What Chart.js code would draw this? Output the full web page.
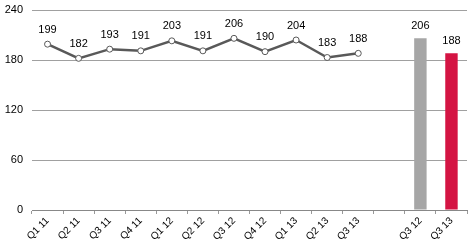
<!DOCTYPE html>
<html>
<head>
<meta charset="utf-8">
<script src="https://cdn.jsdelivr.net/npm/chart.js@4"></script>
<style>
  html, body { margin: 0; padding: 0; background: #fff; }
  #wrap { width: 472px; height: 251px; }
</style>
</head>
<body>
<div id="wrap"><canvas id="myChart"></canvas></div>
<script>
const categories = ['Q1 11', 'Q2 11', 'Q3 11', 'Q4 11', 'Q1 12', 'Q2 12', 'Q3 12', 'Q4 12', 'Q1 13', 'Q2 13', 'Q3 13', '', 'Q3 12', 'Q3 13'];
const trendValues = [199, 182, 193, 191, 203, 191, 206, 190, 204, 183, 188, null, null, null];
const compareValues = [null, null, null, null, null, null, null, null, null, null, null, null, 206, 188];
const compareColors = ['#a6a6a6', '#a6a6a6', '#a6a6a6', '#a6a6a6', '#a6a6a6', '#a6a6a6', '#a6a6a6', '#a6a6a6', '#a6a6a6', '#a6a6a6', '#a6a6a6', '#a6a6a6', '#a6a6a6', '#d41443'];
const yTicks = [0, 60, 120, 180, 240];

// draws the value above each point / bar
const valueLabels = {
  id: 'valueLabels',
  afterDatasetsDraw(chart) {
    const ctx = chart.ctx;
    ctx.save();
    ctx.font = '11px "Liberation Sans", Arial, sans-serif';
    ctx.fillStyle = '#000';
    ctx.textAlign = 'center';
    ctx.textBaseline = 'bottom';
    chart.data.datasets.forEach(function(ds, i) {
      const meta = chart.getDatasetMeta(i);
      meta.data.forEach(function(el, j) {
        const v = ds.data[j];
        if (v === null || v === undefined) return;
        const off = ds.type === 'line' ? 9 : 7;
        ctx.fillText(String(v), el.x, el.y - off);
      });
    });
    ctx.restore();
  }
};

const ctx = document.getElementById('myChart').getContext('2d');
new Chart(ctx, {
  type: 'bar',
  data: {
    labels: categories,
    datasets: [{
      type: 'line',
      data: trendValues,
      borderColor: '#595959',
      borderWidth: 2.5,
      pointRadius: 3,
      pointBorderWidth: 1,
      pointBackgroundColor: '#fff',
      pointBorderColor: '#595959',
      tension: 0,
      spanGaps: false
    }, {
      type: 'bar',
      data: compareValues,
      backgroundColor: compareColors,
      barPercentage: 0.4,
      categoryPercentage: 1
    }]
  },
  options: {
    responsive: true,
    maintainAspectRatio: false,
    animation: false,
    layout: { padding: { top: 10, right: 3, left: 0, bottom: 0 } },
    plugins: {
      legend: { display: false },
      tooltip: { enabled: false }
    },
    scales: {
      x: {
        offset: true,
        grid: {
          offset: true,
          drawOnChartArea: false,
          drawTicks: true,
          tickLength: 4,
          color: '#999'
        },
        border: { display: true, color: '#888', width: 1 },
        ticks: {
          minRotation: 45,
          maxRotation: 45,
          autoSkip: false,
          padding: 1,
          color: '#000',
          font: { family: '"Liberation Sans", Arial, sans-serif', size: 10 }
        },
        afterFit(axis) { axis.height = 41; }
      },
      y: {
        min: 0,
        max: 240,
        afterBuildTicks(axis) { axis.ticks = yTicks.map(v => ({ value: v })); },
        grid: { color: '#a0a0a0', drawTicks: false, lineWidth: 1 },
        border: { display: false },
        ticks: {
          padding: 9,
          color: '#000',
          font: { family: '"Liberation Sans", Arial, sans-serif', size: 11 }
        },
        afterFit(axis) {
          axis.width = 32;
          axis.paddingTop = 0;
          axis.paddingBottom = 0;
        }
      }
    }
  },
  plugins: [valueLabels]
});
</script>
</body>
</html>
